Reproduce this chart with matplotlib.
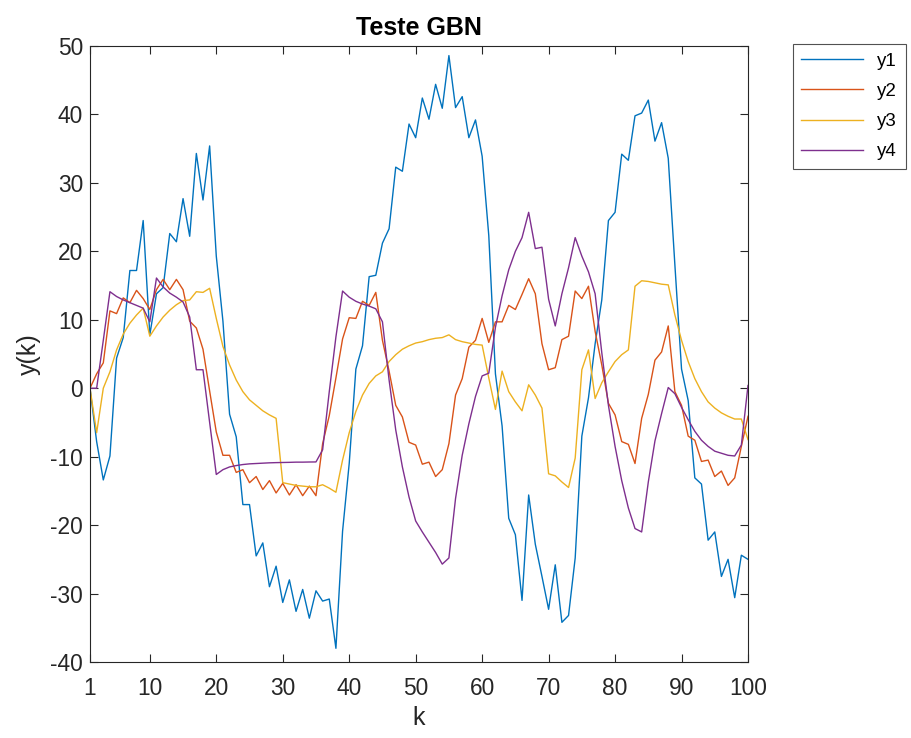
import numpy as np
import matplotlib
matplotlib.use("Agg")
import matplotlib.pyplot as plt

plt.rcParams['font.family'] = ['Liberation Sans', 'DejaVu Sans']
plt.rcParams['axes.unicode_minus'] = False

k = list(range(1, 101))

y1 = [0, -7.8, -13.4, -9.9, 4.4, 7.4, 17.2, 17.2, 24.5, 7.8,
      13.8, 14.7, 22.6, 21.4, 27.7, 22.2, 34.3, 27.5, 35.4, 19.3,
      9.8, -3.8, -7.1, -17.0, -17.0, -24.5, -22.6, -29.0, -26.0, -31.3,
      -28.0, -32.6, -29.4, -33.6, -29.6, -31.1, -30.8, -38.0, -20.9, -11.0,
      2.8, 6.2, 16.3, 16.5, 21.2, 23.3, 32.3, 31.7, 38.6, 36.6,
      42.4, 39.3, 44.4, 40.9, 48.6, 41.0, 42.6, 36.6, 39.2, 33.9,
      22.3, 2.1, -5.5, -19.0, -21.4, -31.0, -15.6, -22.8, -27.5, -32.3,
      -25.8, -34.2, -33.2, -24.8, -7.0, -1.4, 6.5, 12.9, 24.5, 25.7,
      34.2, 33.3, 39.8, 40.2, 42.1, 36.1, 38.8, 33.6, 18.0, 2.8,
      -1.8, -13.1, -14.0, -22.2, -21.0, -27.5, -25.0, -30.6, -24.4, -25.0]

y2 = [0, 2.1, 3.7, 11.3, 10.9, 13.2, 12.5, 14.3, 13.1, 11.5,
      14.4, 15.9, 14.4, 15.9, 14.4, 9.8, 8.8, 5.7, -0.4, -6.4,
      -9.8, -9.8, -12.3, -11.9, -13.8, -12.9, -14.8, -13.5, -15.3, -13.9,
      -15.6, -14.1, -15.7, -14.3, -15.7, -8.1, -4.0, 1.5, 7.2, 10.3,
      10.2, 12.7, 12.1, 14.0, 7.0, 2.5, -2.5, -4.2, -7.9, -8.3,
      -11.1, -10.8, -12.9, -11.9, -8.1, -1.0, 1.4, 6.0, 7.0, 10.2,
      6.7, 9.7, 9.7, 12.1, 11.5, 13.7, 16.0, 13.8, 6.5, 2.7,
      3.0, 7.1, 7.6, 14.2, 13.1, 14.9, 8.3, 3.4, -2.2, -3.9,
      -7.8, -8.2, -11.0, -4.4, -0.9, 4.1, 5.3, 9.1, -0.5, -2.5,
      -7.0, -7.6, -10.7, -10.5, -12.9, -12.1, -14.2, -13.1, -8.5, -4.1]

y3 = [0, -6.5, 0.0, 2.4, 5.6, 7.9, 9.5, 10.7, 11.7, 7.6,
      9.1, 10.4, 11.4, 12.2, 12.8, 12.9, 14.1, 14.0, 14.6, 10.2,
      6.1, 3.4, 1.2, -0.5, -1.7, -2.5, -3.3, -3.9, -4.4, -13.8,
      -14.0, -14.2, -14.3, -14.4, -14.4, -14.1, -14.6, -15.2, -10.5, -6.5,
      -3.4, -1.0, 0.7, 1.8, 2.4, 3.9, 4.9, 5.7, 6.2, 6.6,
      6.8, 7.1, 7.3, 7.4, 7.8, 7.1, 6.8, 6.6, 6.4, 6.3,
      1.5, -3.1, 2.5, -0.5, -2.0, -3.3, 0.5, -1.0, -2.9, -12.5,
      -12.8, -13.7, -14.5, -10.2, 2.7, 5.6, -1.5, 0.8, 2.4, 3.9,
      4.9, 5.6, 14.9, 15.7, 15.6, 15.4, 15.2, 15.1, 10.7, 7.0,
      3.9, 1.4, -0.5, -2.0, -2.9, -3.6, -4.1, -4.5, -4.5, -7.5]

y4 = [0, 0, 7.0, 14.1, 13.4, 12.9, 12.5, 12.1, 11.7, 9.7,
      16.1, 14.8, 13.9, 13.3, 12.6, 10.4, 2.7, 2.7, -5.0, -12.6,
      -11.9, -11.5, -11.3, -11.15, -11.05, -11.0, -10.95, -10.9, -10.87, -10.85,
      -10.83, -10.8, -10.8, -10.78, -10.77, -9.0, -0.5, 7.5, 14.2, 13.3,
      12.7, 12.3, 12.0, 11.6, 9.7, 1.2, -6.1, -11.5, -15.9, -19.4,
      -21.0, -22.5, -24.0, -25.7, -24.8, -16.1, -9.8, -5.2, -1.2, 1.8,
      2.2, 8.9, 13.5, 17.3, 20.0, 22.0, 25.7, 20.4, 20.6, 13.0,
      9.1, 13.8, 17.6, 22.0, 19.3, 17.0, 13.8, 5.2, -2.5, -8.5,
      -13.5, -17.5, -20.5, -21.0, -13.7, -7.7, -3.7, 0.1, -0.8, -2.8,
      -4.6, -6.3, -7.6, -8.5, -9.2, -9.5, -9.8, -9.9, -8.3, 0.4]

series = [y1, y2, y3, y4]
labels = ['y1', 'y2', 'y3', 'y4']
colors = ['#0072BD', '#D95319', '#EDB120', '#7E2F8E']

xticks = [1, 10, 20, 30, 40, 50, 60, 70, 80, 90, 100]
yticks = [-40, -30, -20, -10, 0, 10, 20, 30, 40, 50]

axc = '#262626'
fig = plt.figure(figsize=(9.12, 7.38), dpi=100)
ax = fig.add_axes([90/912, 1-662/738, (748-90)/912, (662-46)/738])

for s, lab, c in zip(series, labels, colors):
    ax.plot(k, s, color=c, lw=1.0, label=lab)

ax.set_xlim(1, 100)
ax.set_ylim(-40, 50)
ax.set_xticks(xticks)
ax.set_yticks(yticks)
ax.tick_params(direction='in', length=6, width=0.8, top=True, right=True,
               labelsize=16.4, colors=axc, pad=5)
ax.tick_params(axis='x', pad=11)
for sp in ax.spines.values():
    sp.set_color(axc)
    sp.set_linewidth(0.8)

ax.set_title('Teste GBN', fontsize=18, fontweight='bold', color='black', pad=8)
ax.set_xlabel('k', fontsize=18, color=axc, labelpad=4)
ax.set_ylabel('y(k)', fontsize=18, color=axc, labelpad=7)

leg = ax.legend(loc='upper left', bbox_to_anchor=(793/912, 1-44/738),
                bbox_transform=fig.transFigure, fontsize=13.5, frameon=True,
                fancybox=False, edgecolor=axc, handlelength=3.3,
                handletextpad=0.75, labelspacing=0.7, borderpad=0.45,
                borderaxespad=0)
leg.get_frame().set_linewidth(0.8)
for t in leg.get_texts():
    t.set_color('black')

fig.savefig('out.png', dpi=100)
